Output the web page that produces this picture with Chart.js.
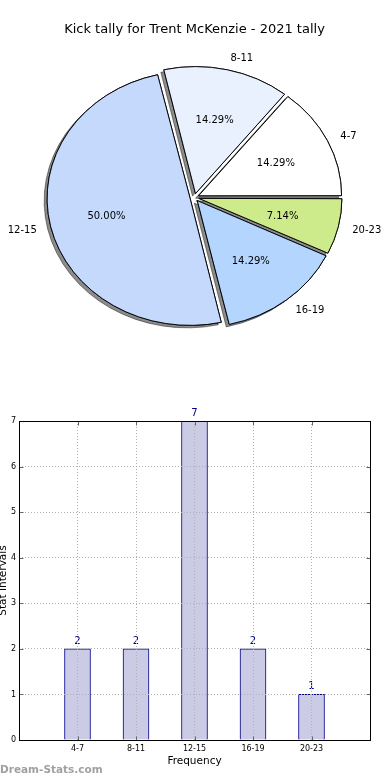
<!DOCTYPE html>
<html>
<head>
<meta charset="utf-8">
<script src="https://cdn.jsdelivr.net/npm/chart.js@4/dist/chart.umd.min.js"></script>
<style>
  html, body { margin: 0; padding: 0; background: #fff; width: 390px; height: 780px; overflow: hidden; }
  #pie { position: absolute; left: 0; top: 0; }
  #bar { position: absolute; left: 0; top: 380px; }
</style>
</head>
<body>
<canvas id="pie" width="390" height="380"></canvas>
<canvas id="bar" width="390" height="400"></canvas>
<script>
// ---- data ----
const chartTitle = 'Kick tally for Trent McKenzie - 2021 tally';
const categories = ['4-7', '8-11', '12-15', '16-19', '20-23'];
const counts = [2, 2, 7, 2, 1];
const sliceColors = ['#ffffff', '#e9f1ff', '#c5d9fd', '#b4d6fe', '#cdeb8b'];
const yTicks = [0, 1, 2, 3, 4, 5, 6, 7];
const xAxisTitle = 'Frequency';
const yAxisTitle = 'Stat Intervals';
const watermark = 'Dream-Stats.com';

Chart.defaults.font.family = '"DejaVu Sans", sans-serif';
Chart.defaults.color = '#000';

// ---- pie ----
const Y_SQUASH = 0.888;           // pie is drawn as an ellipse like the reference
const total = counts.reduce((a, b) => a + b, 0);
// matplotlib draws counter-clockwise from east; Chart.js draws clockwise, so reverse
const pieLabels = categories.slice().reverse();
const pieValues = counts.slice().reverse();
const pieColors = sliceColors.slice().reverse();

const piePlugin = {
  id: 'piePlugin',
  beforeDatasetsDraw(chart) {
    const ctx = chart.ctx;
    const meta = chart.getDatasetMeta(0);
    const baseR = meta.controller.outerRadius;
    const cy = meta.data[0].y;
    meta.data.forEach(arc => {
      const off = (arc.options.offset || 0) / 4;
      const fix = 1 - Math.sin(Math.min(Math.PI, arc.circumference));
      arc.outerRadius = baseR - off * fix;
    });
    ctx.save();
    ctx.translate(0, cy); ctx.scale(1, Y_SQUASH); ctx.translate(0, -cy);
    ctx.save();
    ctx.shadowColor = 'rgba(0,0,0,0.45)';
    ctx.shadowOffsetX = -3;
    ctx.shadowOffsetY = 2.5;
    ctx.shadowBlur = 0;
    meta.data.forEach(arc => arc.draw(ctx));
    ctx.restore();
  },
  afterDatasetsDraw(chart) {
    const ctx = chart.ctx;
    ctx.restore();
    const meta = chart.getDatasetMeta(0);
    const baseR = meta.controller.outerRadius;
    const cy = meta.data[0].y;
    ctx.save();
    ctx.fillStyle = '#000';
    ctx.font = '10px "DejaVu Sans", sans-serif';
    ctx.textBaseline = 'middle';
    meta.data.forEach((arc, i) => {
      const mid = (arc.startAngle + arc.endAngle) / 2;
      const off = (arc.options.offset || 0) / 4;
      const c = Math.cos(mid), s = Math.sin(mid);
      const v = chart.data.datasets[0].data[i];
      const pct = (v / total * 100).toFixed(2) + '%';
      const pr = off + 0.6 * baseR;
      ctx.textAlign = 'center';
      ctx.fillText(pct, arc.x + pr * c, cy + pr * s * Y_SQUASH + 1);
      const lr = off + 1.1 * baseR;
      ctx.textAlign = c >= 0 ? 'left' : 'right';
      ctx.fillText(chart.data.labels[i], arc.x + lr * c, cy + lr * s * Y_SQUASH + 1);
    });
    ctx.restore();
  }
};

new Chart(document.getElementById('pie'), {
  type: 'pie',
  data: {
    labels: pieLabels,
    datasets: [{
      data: pieValues,
      backgroundColor: pieColors,
      borderColor: '#000',
      borderWidth: 1,
      offset: 18,
      radius: 143,
      clip: false
    }]
  },
  options: {
    responsive: false,
    animation: false,
    rotation: 90,
    layout: { padding: { left: 0, right: 1, top: 0, bottom: 29.6 } },
    plugins: {
      legend: { display: false },
      tooltip: { enabled: false },
      title: {
        display: true,
        text: chartTitle,
        color: '#000',
        font: { size: 13, weight: 'normal' },
        padding: { top: 22, bottom: 7 }
      }
    }
  },
  plugins: [piePlugin]
});

// ---- bar ----
const barCats = [''].concat(categories, ['']);
const barVals = [null].concat(counts, [null]);

const barPlugin = {
  id: 'barPlugin',
  afterDatasetsDraw(chart) {
    const ctx = chart.ctx;
    const meta = chart.getDatasetMeta(0);
    ctx.save();
    ctx.fillStyle = '#00008b';
    ctx.font = '10px "DejaVu Sans", sans-serif';
    ctx.textAlign = 'center';
    ctx.textBaseline = 'alphabetic';
    meta.data.forEach((bar, i) => {
      const v = chart.data.datasets[0].data[i];
      if (v === null || v === undefined) return;
      ctx.fillText(String(v), bar.x, bar.y - 5);
    });
    ctx.restore();
  },
  afterDraw(chart) {
    const ctx = chart.ctx;
    const a = chart.chartArea;
    const L = Math.round(a.left) + 0.5, T = Math.round(a.top) + 0.5;
    const R = Math.round(a.right) + 0.5, B = Math.round(a.bottom) + 0.5;
    ctx.save();
    // small inward tick marks (matplotlib style)
    ctx.strokeStyle = '#666';
    ctx.lineWidth = 1;
    ctx.beginPath();
    const ys = chart.scales.y, xs = chart.scales.x;
    yTicks.forEach(v => {
      const y = Math.round(ys.getPixelForValue(v)) + 0.5;
      ctx.moveTo(L, y); ctx.lineTo(L + 4, y);
      ctx.moveTo(R, y); ctx.lineTo(R - 4, y);
    });
    categories.forEach((c, i) => {
      const x = Math.round(xs.getPixelForValue(i + 1)) + 0.5;
      ctx.moveTo(x, B); ctx.lineTo(x, B - 4);
      ctx.moveTo(x, T); ctx.lineTo(x, T + 4);
    });
    ctx.stroke();
    // frame
    ctx.strokeStyle = '#000';
    ctx.strokeRect(L, T, R - L, B - T);
    ctx.fillStyle = 'rgba(128,128,128,0.75)';
    ctx.font = 'bold 10.5px "DejaVu Sans", sans-serif';
    ctx.textAlign = 'left';
    ctx.textBaseline = 'middle';
    ctx.fillText(watermark, 0, chart.height - 10);
    ctx.restore();
  }
};

new Chart(document.getElementById('bar'), {
  type: 'bar',
  data: {
    labels: barCats,
    datasets: [{
      data: barVals,
      backgroundColor: '#cbcbe5',
      borderColor: '#00008b',
      borderWidth: 1,
      barThickness: 26
    }]
  },
  options: {
    responsive: false,
    animation: false,
    layout: { padding: { top: 41, right: 20, left: 0, bottom: 0 } },
    plugins: { legend: { display: false }, tooltip: { enabled: false } },
    scales: {
      x: {
        offset: false,
        grid: { z: 1, offset: false, color: '#b0b0b0', drawTicks: false, borderDash: [1, 2] },
        border: { display: false, dash: [1, 2] },
        ticks: { font: { size: 8 }, color: '#000', padding: 4, maxRotation: 0, autoSkip: false },
        title: { display: true, text: xAxisTitle, color: '#000', font: { size: 10.5 }, padding: { top: 0, bottom: 12 } },
        afterFit(s) { s.height = 40; }
      },
      y: {
        min: yTicks[0],
        max: yTicks[yTicks.length - 1],
        afterBuildTicks(s) { s.ticks = yTicks.map(v => ({ value: v })); },
        grid: { z: 1, color: '#b0b0b0', drawTicks: false, borderDash: [1, 2] },
        border: { display: false, dash: [1, 2] },
        ticks: { font: { size: 8 }, color: '#000', padding: 3 },
        title: { display: true, text: yAxisTitle, color: '#000', font: { size: 10.5 }, padding: { top: -3, bottom: 0 } },
        afterFit(s) { s.width = 19; }
      }
    }
  },
  plugins: [barPlugin]
});
</script>
</body>
</html>
